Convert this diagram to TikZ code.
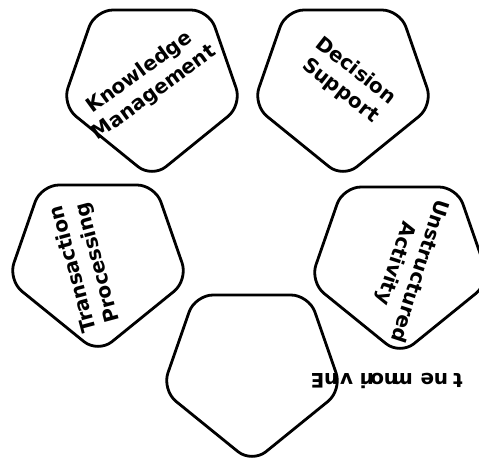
\documentclass[tikz,border=0pt]{standalone}
\usepackage{fontspec}
\setmainfont{DejaVu Sans}
\usetikzlibrary{calc}

\begin{document}
\begin{tikzpicture}[
    x=1pt, y=-1pt,
    lbl/.style={font=\bfseries\fontsize{20}{25}\selectfont, align=center, inner sep=0pt},
    glyph/.style={font=\bfseries\fontsize{20}{25}\selectfont, inner sep=0pt, rotate=180, anchor=base west},
    pics/pent/.style={code={
      \draw[line width=2.8pt, rounded corners=18pt] (-57,-75) -- (57,-75) -- (90,20) -- (0,93) -- (-90,20) -- cycle;
    }}
]
\useasboundingbox (0,0) rectangle (479,460);

\coordinate (km) at (152,85);
\coordinate (ds) at (343,85);
\coordinate (tp) at (98,260);
\coordinate (ua) at (400,262);
\coordinate (env) at (252,370);

\foreach \c in {km,ds,tp,ua,env} {
  \pic at (\c) {pent};
}

\node[lbl, rotate=36]   (kmtxt) at (147,83)  {Knowledge\\Management};
\node[lbl, rotate=-38]  (dstxt) at (348,81)  {Decision\\Support};
\node[lbl, rotate=105]  (tptxt) at (86,266)  {Transaction\\Processing};
\node[lbl, rotate=-108] (uatxt) at (407,267) {Unstructured\\Activity};

\node[inner sep=0pt, anchor=base west] (env0) at (326,373) {};
\foreach \ch [count=\i, remember=\i as \j (initially 0)] in {E,n,v,i,r,o,n,m,e,n,t} {
  \node[glyph] (env\i) at ($(env\j.base east)!2!(env\j.base west)$) {\ch};
}
\end{tikzpicture}
\end{document}
